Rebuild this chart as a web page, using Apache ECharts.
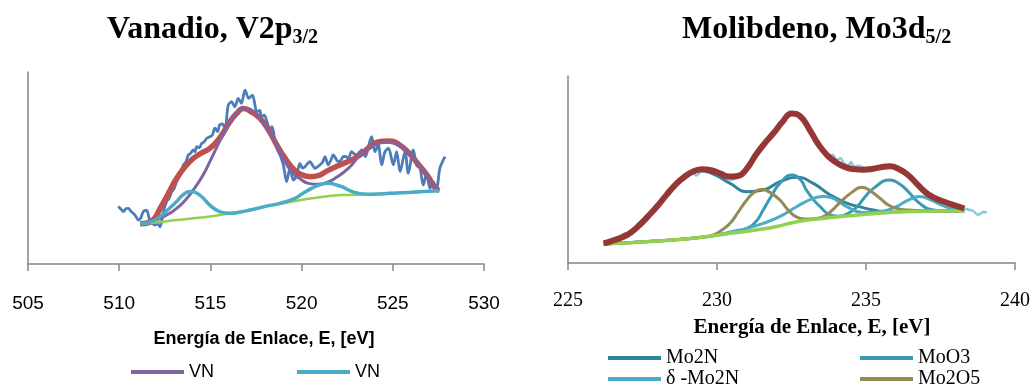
<!DOCTYPE html>
<html>
<head>
<meta charset="utf-8">
<script src="https://cdn.jsdelivr.net/npm/echarts@6/dist/echarts.min.js"></script>
<style>
html,body{margin:0;padding:0;background:#fff;}
#c{width:1034px;height:388px;}
</style>
</head>
<body>
<div id="c"></div>
<script>
// ---------- Left chart: Vanadio V2p3/2 ----------
const vTicks = [505, 510, 515, 520, 525, 530];
const vData = [[509.95,29.9],[510.1,28.5],[510.23,27.3],[510.37,28.8],[510.5,29],[510.64,27.5],[510.77,26.4],[510.9,25],[511.05,22.9],[511.18,24],[511.32,27.3],[511.5,28],[511.69,22],[511.82,21],[511.96,20.3],[512.1,21],[512.24,19.4],[512.42,27.3],[512.6,32.4],[512.75,34.5],[512.88,37.7],[513.0,39],[513.15,42.9],[513.33,46.4],[513.52,51.6],[513.65,53],[513.79,56.8],[513.9,57.5],[514.06,59.4],[514.15,58.5],[514.25,61.1],[514.4,60.5],[514.52,62.8],[514.65,63.5],[514.8,65.5],[514.97,66.3],[515.1,67],[515.25,70.7],[515.4,69],[515.5,72.4],[515.65,73],[515.8,70.7],[515.98,82.8],[516.16,84.5],[516.34,81.9],[516.53,86.3],[516.7,83.7],[516.9,90.6],[517.1,86.3],[517.3,88],[517.42,84],[517.54,79.3],[517.7,80],[517.8,76.7],[517.95,77.5],[518.1,74.1],[518.27,69.8],[518.36,71.5],[518.46,69],[518.54,62.8],[518.72,58.5],[518.85,56],[519.0,51.6],[519.18,42.9],[519.36,49.8],[519.55,43.75],[519.73,46.4],[519.91,52.4],[520.05,50],[520.19,50.7],[520.3,52],[520.46,53.3],[520.6,51.5],[520.73,49.8],[520.85,50.5],[521.0,51.6],[521.15,53],[521.28,55.9],[521.46,51.6],[521.6,54],[521.74,56.8],[521.87,55],[522.0,53.3],[522.15,54],[522.29,55.9],[522.42,56],[522.56,55],[522.74,58.5],[522.87,57.5],[523.0,56.8],[523.15,58],[523.3,59.4],[523.5,55.9],[523.66,61.1],[523.84,66.3],[524.02,58.5],[524.2,62],[524.39,51.6],[524.57,58.5],[524.76,60.3],[525.03,51.6],[525.21,58.5],[525.4,48.1],[525.67,58.5],[525.85,47.2],[526.12,59.4],[526.3,51.6],[526.49,49.8],[526.67,41.1],[526.85,47.2],[527.04,39.4],[527.2,42.9],[527.4,39.4],[527.58,49.8],[527.86,55.9]];
const vSum = [[511.15,21],[511.6,21.5],[511.95,24],[512.24,29],[512.6,35],[512.9,40.5],[513.15,44.6],[513.6,50.5],[514.06,55],[514.5,57.8],[514.97,60.2],[515.5,65.5],[516.07,74.1],[516.45,78.5],[516.8,81],[517.2,79.5],[517.72,75.9],[518.2,69.5],[518.64,62],[519.1,55],[519.6,49],[520.0,46.5],[520.5,45.5],[520.9,46],[521.4,48.5],[522.1,51.6],[522.8,54.5],[523.3,57.5],[523.8,61.5],[524.3,63.8],[524.8,64],[525.3,62.5],[525.9,57.6],[526.4,52],[526.9,46],[527.3,40],[527.55,38.2]];
const vVN1 = [[511.15,21],[511.7,22],[512.24,23.8],[512.7,26],[513.15,29],[513.6,33],[514.06,38.5],[514.6,46.4],[514.97,53.3],[515.5,63.7],[516.07,74.1],[516.62,80.2],[517.0,81],[517.3,80],[517.72,75.9],[518.2,69.5],[518.64,62],[519.0,55],[519.45,48.1],[519.9,44.5],[520.37,42],[520.9,41.5],[521.4,42.5],[521.83,44.6],[522.56,49.8],[523.3,57.6],[524.02,62],[524.76,63.4],[525.5,61],[525.9,57.6],[526.4,52],[526.9,46],[527.3,40],[527.55,38.2]];
const vVN2 = [[511.15,21],[511.7,21.8],[512.24,24.7],[512.7,28.5],[513.15,32.5],[513.5,36],[513.88,37.7],[514.4,36],[514.97,30.7],[515.5,27.3],[516.07,26.4],[516.6,27],[517.17,28.1],[518.0,30],[518.8,31.6],[519.64,34.2],[520.1,37],[520.55,39.4],[521.0,41.3],[521.46,42],[521.8,41.5],[522.2,40.3],[522.9,37.3],[523.66,36.3],[524.5,36.6],[525.2,37],[525.85,37.3],[526.7,37.7],[527.55,38.2]];
const vBase = [[511.15,21],[512.0,21.6],[513.15,22.9],[514.0,23.7],[514.97,24.7],[516.07,26.4],[517.17,28],[518.0,29.8],[518.54,30.9],[519.5,32.5],[520.37,34],[521.3,35.2],[522.2,35.9],[523.66,36.3],[525.0,37],[526.3,37.5],[527.55,38.2]];

// ---------- Right chart: Molibdeno Mo3d5/2 ----------
const mTicks = [225, 230, 235, 240];
const mData = [[226.2,10.6],[226.5,12.3],[226.75,14.5],[226.9,15.8],[227.0,16],[227.25,18.8],[227.5,22.8],[227.75,26.5],[228.0,30.8],[228.25,35.8],[228.5,40],[228.75,44.8],[229.0,47.5],[229.2,48.5],[229.3,46.8],[229.5,49.5],[229.75,49.8],[230.0,47.8],[230.25,46.8],[230.45,44.5],[230.6,45],[230.75,46.5],[231.0,51],[231.25,57.5],[231.5,62.5],[231.75,67],[232.0,71.5],[232.25,77],[232.5,80.2],[232.75,79],[233.0,74],[233.25,67.5],[233.5,61.5],[233.75,57.5],[233.9,57.8],[234.0,55],[234.15,56],[234.25,53.5],[234.4,52],[234.5,54],[234.6,51.5],[234.75,52],[235.0,50.5],[235.25,51.5],[235.5,51],[235.75,52.5],[236.0,50.8],[236.25,48.5],[236.5,45.5],[236.75,42],[237.0,38.5],[237.25,36.2],[237.5,34.5],[237.75,32.2],[238.0,30.5],[238.25,29.5],[238.45,28.5],[238.6,27.8],[238.75,25.8],[238.85,26.5],[238.95,27.4],[239.05,26.8]];
const mSum = [[226.2,10.5],[226.5,12],[226.8,13.6],[227.1,16.2],[227.4,20.3],[227.7,25.2],[228.0,30.5],[228.3,36.3],[228.6,41.8],[228.9,46],[229.2,48.9],[229.5,50.1],[229.8,49.6],[230.1,47.9],[230.4,46.2],[230.7,46.5],[231.0,50.5],[231.3,57.8],[231.6,64],[231.9,69.5],[232.2,75.5],[232.5,80],[232.8,78.3],[233.1,71.5],[233.4,63.5],[233.7,57.6],[234.0,53.8],[234.3,51.3],[234.6,50.2],[234.9,49.9],[235.2,50.3],[235.5,51.2],[235.8,51.7],[236.1,50.3],[236.4,47.2],[236.7,42.5],[237.0,37.8],[237.3,34.8],[237.6,32.9],[237.9,31.2],[238.3,29.2]];
const mMo2N = [[226.19,10.3],[226.86,13.5],[227.4,20],[227.98,29.8],[228.53,40.3],[228.9,45.5],[229.2,48.3],[229.45,49.3],[229.88,47.5],[230.44,42.6],[231.0,38.1],[231.55,39],[232.11,43.5],[232.67,45.8],[233.23,42.6],[233.8,36.4],[234.35,32],[234.8,30],[235.25,28.3],[235.8,27.3],[236.5,27.6],[237.4,27.8],[238.3,28]];
const mMoO3 = [[226.19,10.2],[228.5,12.3],[229.5,13.8],[230.0,15],[230.5,16.3],[231.0,18.5],[231.3,22],[231.55,28.3],[231.85,36.5],[232.11,42.6],[232.5,47],[232.8,44.5],[233.0,39],[233.23,34],[233.46,30.1],[233.8,25.7],[234.1,25],[234.4,26.5],[234.7,30.1],[234.95,35],[235.25,39.9],[235.8,44.4],[236.1,42.5],[236.37,39],[236.8,31.9],[237.26,28.3],[237.7,27.8],[238.3,28]];
const mDelta = [[226.19,10.2],[228.5,12.3],[229.5,13.8],[230.0,15],[230.44,16.6],[231.0,18.5],[231.55,21.2],[232.1,24.8],[232.67,30.1],[233.23,34.6],[233.57,35.5],[233.85,34.8],[234.1,32.8],[234.35,30.1],[234.9,27],[235.5,27.5],[236.0,30],[236.4,33.5],[236.8,35.5],[237.2,33.5],[237.6,30.5],[238.0,28.5],[238.3,28]];
const mMo2O5 = [[226.19,10.2],[228.5,12.3],[229.5,13.8],[229.88,15],[230.15,17.5],[230.44,21.2],[230.7,27],[231.0,33.7],[231.25,37.8],[231.5,39.4],[231.8,37.5],[232.11,33.7],[232.35,29],[232.56,25.7],[232.8,23.8],[233.0,23.5],[233.3,23.8],[233.57,24.8],[233.85,28],[234.1,31.9],[234.5,37.5],[234.86,40.5],[235.15,38.5],[235.47,34.6],[235.75,31],[236.03,29.2],[236.4,28.3],[237.3,27.8],[238.3,28]];
const mBase = [[226.19,10.2],[227.0,10.8],[227.8,11.5],[228.5,12.3],[229.2,13.2],[229.88,14.6],[230.5,16],[231.3,17.6],[232.0,19.5],[232.6,21.8],[233.2,23.2],[233.8,24.3],[234.4,25.2],[235.0,26.1],[235.7,26.9],[236.4,27.5],[237.3,27.8],[238.3,28]];

const axisGrey = '#868686';
const sans = 'Liberation Sans';
const serif = 'Liberation Serif';

function line(name, data, color, width, gi, smooth, z) {
  return {type:'line', name:name, data:data, xAxisIndex:gi, yAxisIndex:gi, symbol:'none',
    smooth:smooth, z:z, silent:true, animation:false,
    lineStyle:{color:color, width:width}, itemStyle:{color:color}};
}
function legendItem(name, left, top, font, size) {
  return {data:[name], left:left, top:top, padding:0, icon:'rect', itemWidth:53, itemHeight:4,
    selectedMode:false, textStyle:{fontFamily:font, fontSize:size, color:'#000'}};
}
const titleRich = {
  a:{fontFamily:serif, fontWeight:'bold', fontSize:32, lineHeight:36, color:'#000'},
  s:{fontFamily:serif, fontWeight:'bold', fontSize:20, lineHeight:16, verticalAlign:'bottom', color:'#000'}
};

const chart = echarts.init(document.getElementById('c'), null, {renderer:'canvas'});
chart.setOption({
  backgroundColor:'#fff',
  animation:false,
  title:[
    {left:107, top:12, padding:0, text:'{a|Vanadio, V2p}{s|3/2}', textStyle:{rich:titleRich}},
    {left:682, top:12, padding:0, text:'{a|Molibdeno, Mo3d}{s|5/2}', textStyle:{rich:titleRich}}
  ],
  grid:[
    {left:28, top:72, width:456, height:192, outerBoundsMode:'none'},
    {left:568, top:76, width:447, height:187, outerBoundsMode:'none'}
  ],
  xAxis:[
    {gridIndex:0, type:'value', min:vTicks[0], max:vTicks[vTicks.length-1], interval:5,
     axisLine:{lineStyle:{color:axisGrey, width:1.5}}, axisTick:{length:7, lineStyle:{color:axisGrey, width:1.5}},
     splitLine:{show:false},
     axisLabel:{margin:30, color:'#000', fontFamily:sans, fontSize:19},
     name:'Energía de Enlace, E, [eV]', nameLocation:'middle', nameGap:66,
     nameTextStyle:{fontFamily:sans, fontWeight:'bold', fontSize:18, color:'#000', padding:[0,0,0,16]}},
    {gridIndex:1, type:'value', min:mTicks[0], max:mTicks[mTicks.length-1], interval:5,
     axisLine:{lineStyle:{color:axisGrey, width:1.5}}, axisTick:{length:7, lineStyle:{color:axisGrey, width:1.5}},
     splitLine:{show:false},
     axisLabel:{margin:28, color:'#000', fontFamily:serif, fontSize:20},
     name:'Energía de Enlace, E, [eV]', nameLocation:'middle', nameGap:54,
     nameTextStyle:{fontFamily:serif, fontWeight:'bold', fontSize:21, color:'#000', padding:[0,0,0,41]}}
  ],
  yAxis:[
    {gridIndex:0, type:'value', min:0, max:100, axisLine:{show:true, lineStyle:{color:axisGrey, width:1.5}},
     axisTick:{show:false}, axisLabel:{show:false}, splitLine:{show:false}},
    {gridIndex:1, type:'value', min:0, max:100, axisLine:{show:true, lineStyle:{color:axisGrey, width:1.5}},
     axisTick:{show:false}, axisLabel:{show:false}, splitLine:{show:false}}
  ],
  legend:[
    legendItem('VN', 131, 363, sans, 18),
    legendItem('VN ', 297, 363, sans, 18),
    legendItem('Mo2N', 608, 348, serif, 20),
    legendItem('MoO3', 860, 348, serif, 20),
    legendItem('δ -Mo2N', 608, 369, serif, 20),
    legendItem('Mo2O5', 860, 369, serif, 20)
  ],
  series:[
    line('V data', vData, '#4A7DBA', 2.8, 0, 0.3, 1),
    line('V sum', vSum, '#C0504D', 5.5, 0, true, 2),
    line('VN', vVN1, '#8064A2', 3, 0, true, 3),
    line('V base', vBase, '#92D050', 2.5, 0, true, 4),
    line('VN ', vVN2, '#4BACC6', 3.5, 0, true, 5),
    line('Mo data', mData, '#8CC8DA', 2.5, 1, 0.3, 1),
    line('Mo2N', mMo2N, '#31849B', 3, 1, true, 2),
    line('MoO3', mMoO3, '#3A9AB3', 3, 1, true, 3),
    line('δ -Mo2N', mDelta, '#4BACC6', 3, 1, true, 4),
    line('Mo2O5', mMo2O5, '#948A54', 3, 1, true, 5),
    line('Mo base', mBase, '#92D050', 3.5, 1, true, 6),
    line('Mo sum', mSum, '#953735', 6, 1, true, 7)
  ]
});
</script>
</body>
</html>
